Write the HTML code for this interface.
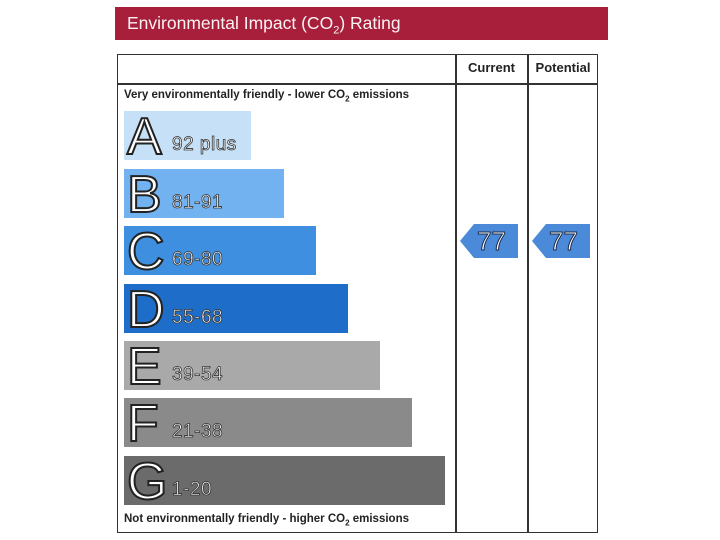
<!DOCTYPE html><html><head><style>
body{margin:0;width:720px;height:540px;background:#fff;position:relative;font-family:"Liberation Sans",Arial,sans-serif;overflow:hidden}
.a{position:absolute}
.title{left:115px;top:7px;width:493px;height:33px;background:#a71f3b;color:#fbf2f4;font-size:17.5px;line-height:33px;padding-left:12px;box-sizing:border-box}
.bar{position:absolute;left:124px;height:49px}
.L{position:absolute;left:3px;top:-4px;font-size:52px;color:#fff;-webkit-text-stroke:2px #222;font-family:"Liberation Sans",sans-serif}
.n{position:absolute;left:48px;bottom:4px;font-size:19px;color:#fff;-webkit-text-stroke:0.8px #333;letter-spacing:0.5px}
.arr{position:absolute;top:224px;width:58px;height:34px;background:#4a8ad8;clip-path:polygon(0 50%,14px 0,100% 0,100% 100%,14px 100%)}
.arr span{position:absolute;left:17px;top:2px;font-size:26px;color:#fff;-webkit-text-stroke:1px #1a2a4a}
</style></head><body>
<div class="a title">Environmental Impact (CO<sub style="font-size:11px">2</sub>) Rating</div>
<div class="a" style="left:117px;top:54px;width:481px;height:479px;border:1.5px solid #333;box-sizing:border-box"></div>
<div class="a" style="left:117px;top:83px;width:481px;height:1.5px;background:#333"></div>
<div class="a" style="left:455px;top:54px;width:1.5px;height:479px;background:#333"></div>
<div class="a" style="left:527px;top:54px;width:1.5px;height:479px;background:#333"></div>
<div class="a" style="left:456px;top:60px;width:71px;text-align:center;font-size:13px;font-weight:bold;color:#222">Current</div>
<div class="a" style="left:528px;top:60px;width:70px;text-align:center;font-size:13px;font-weight:bold;color:#222">Potential</div>
<div class="a" style="left:124px;top:89px;font-size:11.5px;font-weight:bold;color:#222">Very environmentally friendly - lower CO<sub style="font-size:8px">2</sub> emissions</div>
<div class="a" style="left:124px;top:513px;font-size:11.5px;font-weight:bold;color:#222">Not environmentally friendly - higher CO<sub style="font-size:8px">2</sub> emissions</div>
<div class="bar" style="top:111px;width:127px;background:#c6e1f7"><span class="L">A</span><span class="n">92 plus</span></div>
<div class="bar" style="top:169px;width:160px;background:#72b2f0"><span class="L">B</span><span class="n">81-91</span></div>
<div class="bar" style="top:226px;width:192px;background:#3f8fe0"><span class="L">C</span><span class="n">69-80</span></div>
<div class="bar" style="top:284px;width:224px;background:#1e6dc8"><span class="L">D</span><span class="n">55-68</span></div>
<div class="bar" style="top:341px;width:256px;background:#a9a9a9"><span class="L">E</span><span class="n">39-54</span></div>
<div class="bar" style="top:398px;width:288px;background:#8a8a8a"><span class="L">F</span><span class="n">21-38</span></div>
<div class="bar" style="top:456px;width:321px;background:#6b6b6b"><span class="L">G</span><span class="n">1-20</span></div>
<div class="arr" style="left:460px"><span>77</span></div>
<div class="arr" style="left:532px"><span>77</span></div>
</body></html>
